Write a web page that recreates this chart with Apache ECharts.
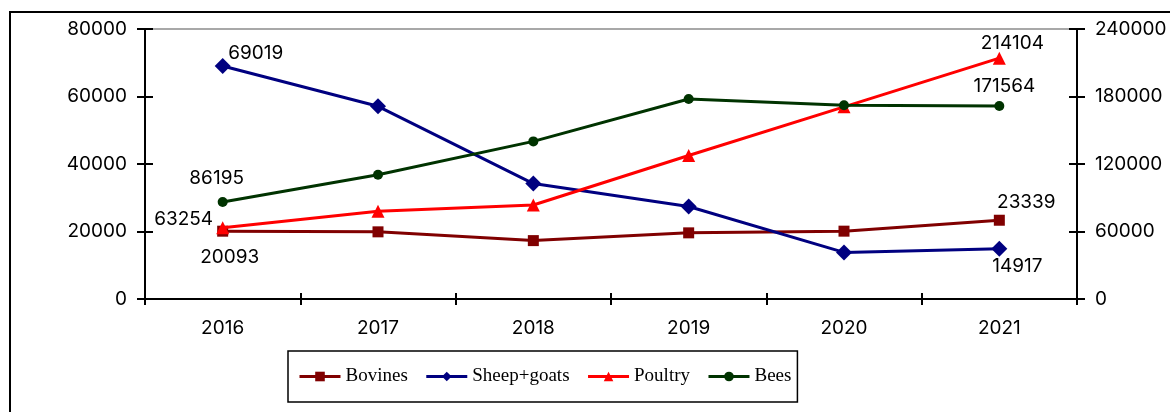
<!DOCTYPE html>
<html>
<head>
<meta charset="utf-8">
<script src="https://cdn.jsdelivr.net/npm/echarts@6/dist/echarts.min.js"></script>
<style>
  html, body { margin: 0; padding: 0; background: #fff; }
  #chart { width: 1170px; height: 412px; }
</style>
</head>
<body>
<div id="chart"></div>
<script>
// Livestock counts by year
const years = ['2016', '2017', '2018', '2019', '2020', '2021'];
const bovines = [20093, 19900, 17300, 19600, 20100, 23339];        // left axis
const sheepGoats = [69019, 57100, 34200, 27400, 13800, 14917];     // left axis
const poultry = [63254, 77900, 83600, 127600, 170800, 214104];     // right axis
const bees = [86195, 110400, 140100, 177800, 172200, 171564];      // right axis

const leftTicks = { min: 0, max: 80000, interval: 20000 };
const rightTicks = { min: 0, max: 240000, interval: 60000 };

const numFont = 'Inter, "Liberation Sans", Arial, sans-serif';
const numSize = 19;

// label offsets (relative to marker centre) for first and last points
function withEndLabels(values, firstOffset, lastOffset) {
  return values.map((v, i) => {
    if (i === 0 || i === values.length - 1) {
      return {
        value: v,
        label: {
          show: true,
          position: 'inside',
          offset: i === 0 ? firstOffset : lastOffset,
          color: '#000',
          fontFamily: numFont,
          fontSize: numSize,
          formatter: (p) => String(p.value)
        }
      };
    }
    return v;
  });
}

const chart = echarts.init(document.getElementById('chart'), null, { renderer: 'canvas' });

const axisLine = { show: true, lineStyle: { color: '#000', width: 2 } };
const axisLabel = {
  color: '#000', fontFamily: numFont, fontSize: numSize,
  formatter: (v) => String(v)
};

chart.setOption({
  animation: false,
  backgroundColor: '#fff',
  grid: {
    left: 145, right: 93, top: 29, bottom: 113,
    show: true, borderColor: '#8c8c8c', borderWidth: 1.5, backgroundColor: 'transparent'
  },
  graphic: [{
    type: 'rect',
    shape: { x: 10, y: 12, width: 1300, height: 500 },
    style: { fill: 'none', stroke: '#000', lineWidth: 2 },
    silent: true, z: 100
  }],
  legend: {
    left: 288, top: 351,
    padding: [16, 6, 16, 10],
    borderColor: '#000', borderWidth: 1.5,
    itemWidth: 41, itemHeight: 12, itemGap: 17,
    lineStyle: { width: 3 },
    textStyle: { color: '#000', fontFamily: '"Liberation Serif", "Times New Roman", serif', fontSize: 19 },
    data: ['Bovines', 'Sheep+goats', 'Poultry', 'Bees']
  },
  xAxis: [{
    type: 'category', data: years, boundaryGap: true, position: 'bottom',
    axisLine: axisLine,
    axisTick: { show: true, inside: false, length: 6, lineStyle: { color: '#000', width: 2 } },
    axisLabel: { color: '#000', fontFamily: numFont, fontSize: numSize, margin: 20 },
    splitLine: { show: false }
  }, {
    type: 'category', data: years, boundaryGap: true, position: 'bottom',
    axisLine: { show: false },
    axisTick: { show: true, inside: true, length: 6, lineStyle: { color: '#000', width: 2 } },
    axisLabel: { show: false },
    splitLine: { show: false }
  }],
  yAxis: [{
    type: 'value', position: 'left', min: leftTicks.min, max: leftTicks.max, interval: leftTicks.interval,
    axisLine: axisLine,
    axisTick: { show: true, inside: false, length: 8, lineStyle: { color: '#000', width: 2 } },
    axisLabel: Object.assign({ margin: 18 }, axisLabel),
    splitLine: { show: false }
  }, {
    type: 'value', position: 'right', min: rightTicks.min, max: rightTicks.max, interval: rightTicks.interval,
    axisLine: axisLine,
    axisTick: { show: true, inside: false, length: 8, lineStyle: { color: '#000', width: 2 } },
    axisLabel: Object.assign({ margin: 18 }, axisLabel),
    splitLine: { show: false }
  }, {
    type: 'value', position: 'left', min: leftTicks.min, max: leftTicks.max, interval: leftTicks.interval,
    axisLine: { show: false },
    axisTick: { show: true, inside: true, length: 8, lineStyle: { color: '#000', width: 2 } },
    axisLabel: { show: false },
    splitLine: { show: false }
  }, {
    type: 'value', position: 'right', min: rightTicks.min, max: rightTicks.max, interval: rightTicks.interval,
    axisLine: { show: false },
    axisTick: { show: true, inside: true, length: 8, lineStyle: { color: '#000', width: 2 } },
    axisLabel: { show: false },
    splitLine: { show: false }
  }],
  series: [{
    name: 'Bovines', type: 'line', yAxisIndex: 0,
    data: withEndLabels(bovines, [7, 26], [27, -18]),
    symbol: 'rect', symbolSize: 11, showAllSymbol: true,
    itemStyle: { color: '#800000' }, lineStyle: { color: '#800000', width: 3 }, z: 3
  }, {
    name: 'Sheep+goats', type: 'line', yAxisIndex: 0,
    data: withEndLabels(sheepGoats, [33, -13], [18, 18]),
    symbol: 'diamond', symbolSize: 16, showAllSymbol: true,
    itemStyle: { color: '#000080' }, lineStyle: { color: '#000080', width: 3 }, z: 4
  }, {
    name: 'Poultry', type: 'line', yAxisIndex: 1,
    data: withEndLabels(poultry, [-39, -9], [13, -15]),
    symbol: 'triangle', symbolSize: 13, showAllSymbol: true,
    itemStyle: { color: '#ff0000' }, lineStyle: { color: '#ff0000', width: 3 }, z: 5
  }, {
    name: 'Bees', type: 'line', yAxisIndex: 1,
    data: withEndLabels(bees, [-6, -24], [5, -20]),
    symbol: 'circle', symbolSize: 10, showAllSymbol: true,
    itemStyle: { color: '#003300' }, lineStyle: { color: '#003300', width: 3 }, z: 6
  }]
});
</script>
</body>
</html>
